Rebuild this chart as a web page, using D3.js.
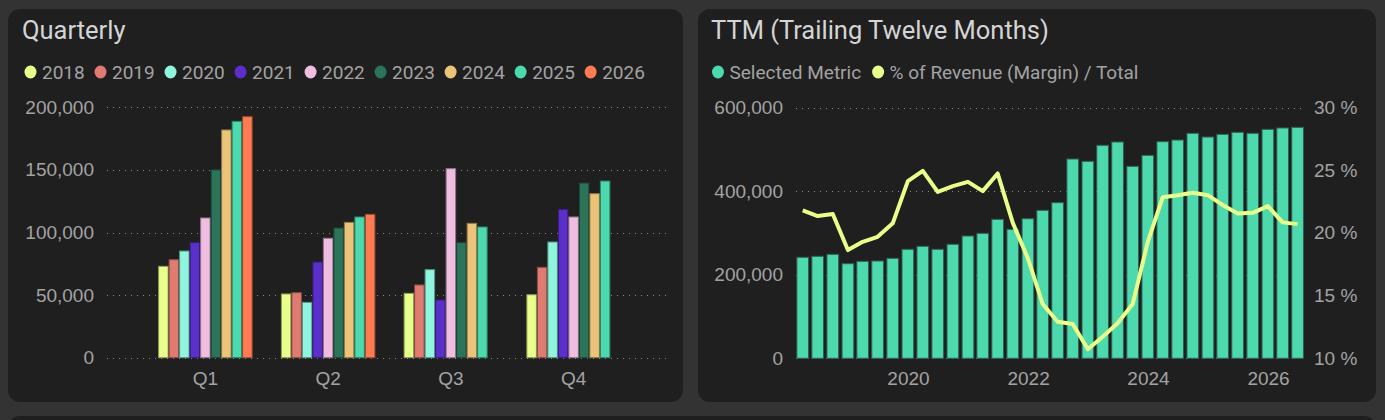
<!DOCTYPE html>
<html>
<head>
<meta charset="utf-8">
<script src="https://cdn.jsdelivr.net/npm/d3@7"></script>
<style>
  html, body { margin: 0; padding: 0; background: #333333; }
  svg { display: block; font-family: Roboto, "Noto Sans", sans-serif; }
</style>
</head>
<body>
<svg id="chart" width="1385" height="420"></svg>
<script>
// Quarterly chart data
const years = ["2018", "2019", "2020", "2021", "2022", "2023", "2024", "2025", "2026"];
const quarters = ["Q1", "Q2", "Q3", "Q4"];
const yearColors = ["#e8ff8c", "#e07b72", "#8ff5dc", "#5b2fc9", "#efbde0", "#2b7359", "#ebc47a", "#4cd9ae", "#ff7c53"];
const v2018 = [73000, 50900, 51400, 50300];
const v2019 = [78300, 51900, 58100, 72200];
const v2020 = [85200, 44200, 70300, 92400];
const v2021 = [91900, 76400, 46100, 118500];
const v2022 = [111600, 95400, 151000, 112400];
const v2023 = [150000, 103600, 91900, 139500];
const v2024 = [181900, 108100, 107300, 131000];
const v2025 = [188800, 112400, 104400, 141100];
const v2026 = [192500, 114500, null, null];
const quarterlyTicks = [0, 50000, 100000, 150000, 200000];

// TTM chart data
const ttmPeriods = [
  "2018Q1", "2018Q2", "2018Q3", "2018Q4", "2019Q1", "2019Q2", "2019Q3", "2019Q4",
  "2020Q1", "2020Q2", "2020Q3", "2020Q4", "2021Q1", "2021Q2", "2021Q3", "2021Q4",
  "2022Q1", "2022Q2", "2022Q3", "2022Q4", "2023Q1", "2023Q2", "2023Q3", "2023Q4",
  "2024Q1", "2024Q2", "2024Q3", "2024Q4", "2025Q1", "2025Q2", "2025Q3", "2025Q4",
  "2026Q1", "2026Q2"
];
const ttmValues = [
  241600, 244000, 248800, 226300, 232000, 232800, 239200, 260800,
  268000, 260800, 272700, 292600, 299000, 332500, 308600, 334000,
  354000, 372300, 476800, 471300, 509600, 517500, 459300, 485600,
  518200, 522200, 538300, 529400, 535900, 540700, 538300, 547800,
  551000, 552600
];
const marginPct = [
  21.8, 21.34, 21.5, 18.63, 19.29, 19.69, 20.76, 24.13,
  24.95, 23.27, 23.73, 24.07, 23.33, 24.74, 20.8, 17.97,
  14.33, 12.92, 12.73, 10.72, 11.72, 12.79, 14.33, 19.29,
  22.85, 23.01, 23.2, 23.01, 22.22, 21.55, 21.6, 22.14,
  20.84, 20.7
];
const ttmLeftTicks = [0, 200000, 400000, 600000];
const ttmRightTicks = [10, 15, 20, 25, 30];
const ttmSeries = ["Selected Metric", "% of Revenue (Margin) / Total"];
const ttmColors = ["#4cd9ae", "#e8ff8c"];

const svg = d3.select('#chart');
const labelColor = '#a3a3a3';
const labelSize = '19px';

// Panels
svg.append('rect').attr('x', 8).attr('y', 9).attr('width', 675).attr('height', 393)
  .attr('rx', 12).attr('fill', '#1f1f1f');
svg.append('rect').attr('x', 698).attr('y', 9).attr('width', 678).attr('height', 393)
  .attr('rx', 12).attr('fill', '#1f1f1f');
svg.append('rect').attr('x', 8).attr('y', 416).attr('width', 1368).attr('height', 40)
  .attr('rx', 12).attr('fill', '#1f1f1f');

function legend(g, names, colors, x0, y, gap) {
  let x = x0;
  names.forEach((name, i) => {
    g.append('ellipse').attr('cx', x + 6).attr('cy', y).attr('rx', 6).attr('ry', 6.5)
      .attr('fill', colors[i]);
    const t = g.append('text').attr('x', x + 17.5).attr('y', y).attr('dy', '0.35em')
      .attr('fill', labelColor).style('font-size', labelSize).text(name);
    x += 17.5 + t.node().getComputedTextLength() + gap;
  });
}

function styleAxis(g) {
  g.select('.domain').remove();
  g.selectAll('.tick line').remove();
  g.selectAll('.tick text').attr('fill', labelColor).style('font-size', labelSize);
}

function grid(g, scale, ticks, x1, x2) {
  g.selectAll('line.grid').data(ticks).enter().append('line')
    .attr('class', 'grid')
    .attr('x1', x1).attr('x2', x2)
    .attr('y1', d => Math.round(scale(d)) + 0.5).attr('y2', d => Math.round(scale(d)) + 0.5)
    .attr('stroke', '#8a8a8a').attr('stroke-width', 1).attr('stroke-dasharray', '1,5');
}

// ---------- Quarterly ----------
const left = svg.append('g');
left.append('text').attr('x', 22).attr('y', 39).attr('fill', '#d4d4d4')
  .style('font-size', '25.5px').text('Quarterly');
legend(left, years, yearColors, 24.5, 72, 9.8);

const qy = d3.scaleLinear().domain([0, 200000]).range([357.7, 107.3]);
const qx = d3.scaleBand().domain(quarters).range([144, 635]).paddingInner(0.23).paddingOuter(0.115);
const qxInner = d3.scaleBand().domain(years).range([0, qx.bandwidth()]);

grid(left, qy, quarterlyTicks, 107, 671);

left.append('g').attr('transform', 'translate(94,0)')
  .call(d3.axisLeft(qy).tickValues(quarterlyTicks).tickFormat(d3.format(',')).tickSize(0).tickPadding(0))
  .call(styleAxis);
left.append('g').attr('transform', 'translate(0,371)')
  .call(d3.axisBottom(qx).tickSize(0).tickPadding(0))
  .call(styleAxis);

const quarterly = [v2018, v2019, v2020, v2021, v2022, v2023, v2024, v2025, v2026];
const qData = [];
quarterly.forEach((vals, yi) => {
  vals.forEach((v, qi) => {
    if (v != null) qData.push({ year: years[yi], quarter: quarters[qi], value: v, color: yearColors[yi] });
  });
});
left.selectAll('rect.bar').data(qData).enter().append('rect')
  .attr('class', 'bar')
  .attr('x', d => qx(d.quarter) + qxInner(d.year) + 0.5)
  .attr('y', d => qy(d.value))
  .attr('width', qxInner.bandwidth() - 1)
  .attr('height', d => qy(0) - qy(d.value))
  .attr('fill', d => d.color)
  .attr('stroke', d => d3.color(d.color).darker(1.4))
  .attr('stroke-width', 1);

// ---------- TTM ----------
const right = svg.append('g');
right.append('text').attr('x', 711).attr('y', 39).attr('fill', '#d4d4d4')
  .style('font-size', '25.5px').text('TTM (Trailing Twelve Months)');
legend(right, ttmSeries, ttmColors, 712, 72, 11);

const parsePeriod = p => new Date(+p.slice(0, 4), +p.slice(5) * 3, 0);
const ttmData = ttmPeriods.map((p, i) => ({ date: parsePeriod(p), value: ttmValues[i], pct: marginPct[i] }));

const tx = d3.scaleTime().domain([new Date(2018, 1, 18), new Date(2026, 7, 8)]).range([796, 1304]);
const tyL = d3.scaleLinear().domain([0, 600000]).range([358.3, 107.5]);
const tyR = d3.scaleLinear().domain([10, 30]).range([358.3, 107.5]);
const barW = 11.7;

grid(right, tyL, ttmLeftTicks, 796, 1304);

right.append('g').attr('transform', 'translate(783,0)')
  .call(d3.axisLeft(tyL).tickValues(ttmLeftTicks).tickFormat(d3.format(',')).tickSize(0).tickPadding(0))
  .call(styleAxis);
right.append('g').attr('transform', 'translate(1314,0)')
  .call(d3.axisRight(tyR).tickValues(ttmRightTicks).tickFormat(d => d + ' %').tickSize(0).tickPadding(0))
  .call(styleAxis);
right.append('g').attr('transform', 'translate(0,371)')
  .call(d3.axisBottom(tx).ticks(d3.timeYear.every(2)).tickFormat(d3.timeFormat('%Y')).tickSize(0).tickPadding(0))
  .call(styleAxis);

right.selectAll('rect.bar').data(ttmData).enter().append('rect')
  .attr('class', 'bar')
  .attr('x', d => tx(d.date) - barW / 2)
  .attr('y', d => tyL(d.value))
  .attr('width', barW)
  .attr('height', d => tyL(0) - tyL(d.value))
  .attr('fill', ttmColors[0])
  .attr('stroke', '#2f5f50')
  .attr('stroke-width', 1);

right.append('path').datum(ttmData)
  .attr('fill', 'none')
  .attr('stroke', ttmColors[1])
  .attr('stroke-width', 4)
  .attr('stroke-linejoin', 'round')
  .attr('d', d3.line().x(d => tx(d.date)).y(d => tyR(d.pct)));
</script>
</body>
</html>
